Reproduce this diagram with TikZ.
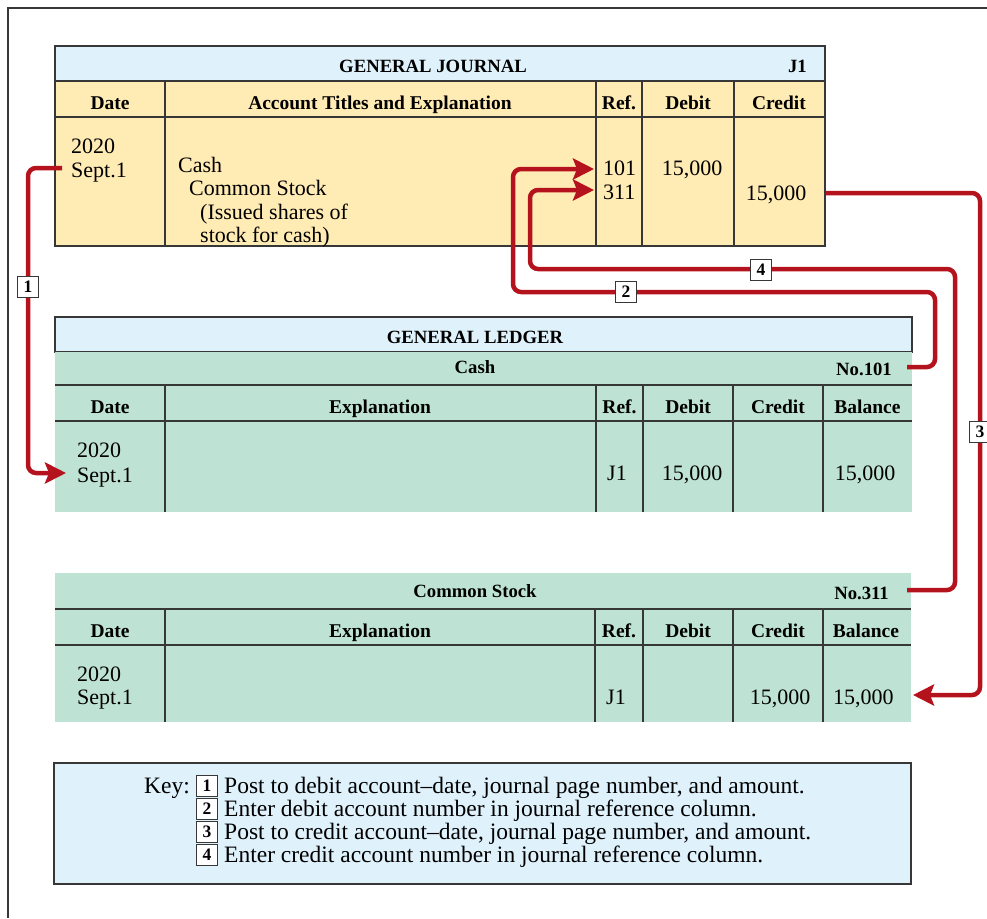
\documentclass[tikz,border=0pt]{standalone}
\usepackage{fontspec}
\setmainfont{Liberation Serif}
\usetikzlibrary{arrows.meta}
\definecolor{jblue}{RGB}{223,241,251}
\definecolor{jyellow}{RGB}{255,235,180}
\definecolor{lgreen}{RGB}{190,227,212}
\definecolor{postred}{RGB}{180,18,28}
\definecolor{rulegray}{RGB}{55,55,55}
\newcommand\bodyfont{\fontsize{22}{23}\selectfont}
\newcommand\keyfont{\fontsize{23.5}{23}\selectfont}
\newcommand\headfont{\fontsize{19.5}{21}\selectfont\bfseries}
\newcommand\titlefont{\fontsize{18.7}{20}\selectfont\bfseries}
\tikzset{
 rule/.style={draw=rulegray, line width=1.2pt},
 txt/.style={inner sep=0pt, font=\bodyfont},
 keytxt/.style={inner sep=0pt, font=\keyfont},
 hd/.style={inner sep=0pt, font=\headfont, anchor=base},
 ttl/.style={inner sep=0pt, font=\titlefont, anchor=base},
 post/.style={draw=postred, line width=4.5pt, rounded corners=8pt},
 posttip/.style={post, -{Stealth[length=21pt,width=21pt,inset=4pt]}},
 numbox/.style={draw=rulegray, fill=white, line width=1pt, inner sep=0pt,
   minimum width=21pt, minimum height=21pt, font=\fontsize{17.5}{17}\selectfont\bfseries},
}
\begin{document}
\begin{tikzpicture}[x=1pt,y=-1pt]
\useasboundingbox (0,0) rectangle (987,918);
% outer frame
\draw[draw=rulegray,line width=1.5pt] (8,918) -- (8,8) -- (987,8);

% ---------------- General Journal ----------------
\fill[jblue] (55,46) rectangle (825,81);
\fill[jyellow] (55,81) rectangle (825,246);
\draw[rule] (55,46) rectangle (825,246);
\draw[rule] (55,81) -- (825,81) (55,117) -- (825,117);
\draw[rule] (165,81) -- (165,246) (596,81) -- (596,246)
            (642,81) -- (642,246) (734,81) -- (734,246);
\node[ttl] (jtitle) at (433,72) {GENERAL JOURNAL};
\node[ttl,anchor=base east] (jpage) at (807,72) {J1};
\node[hd] (jhdate) at (110,109) {Date};
\node[hd] (jhacct) at (380,109) {Account Titles and Explanation};
\node[hd] (jhref) at (619,109) {Ref.};
\node[hd] (jhdeb) at (688,109) {Debit};
\node[hd] (jhcred) at (779,109) {Credit};
\node[txt,anchor=base west] (jyear) at (71,153) {2020};
\node[txt,anchor=base west] (jsept) at (71,177) {Sept.1};
\node[txt,anchor=base west] (jcash) at (178,172) {Cash};
\node[txt,anchor=base west] (jcs) at (189,195) {Common Stock};
\node[txt,anchor=base west] (jexp1) at (200,219) {(Issued shares of};
\node[txt,anchor=base west] (jexp2) at (200,242) {stock for cash)};
\node[txt,anchor=base west] (jref1) at (603,175) {101};
\node[txt,anchor=base west] (jref2) at (603,199) {311};
\node[txt,anchor=base] (jdeb) at (692,175) {15,000};
\node[txt,anchor=base] (jcred) at (776,200) {15,000};

% ---------------- General Ledger: Cash ----------------
\fill[jblue] (55,317) rectangle (912,352);
\draw[rule] (55,317) rectangle (912,352);
\fill[lgreen] (55,352) rectangle (912,512);
\draw[rule] (55,385) -- (912,385) (55,421) -- (912,421);
\draw[rule] (165,385) -- (165,512) (596,385) -- (596,512)
            (643,385) -- (643,512) (733,385) -- (733,512) (823,385) -- (823,512);
\node[ttl] (ltitle) at (475,343) {GENERAL LEDGER};
\node[ttl] (cashname) at (475,373) {Cash};
\node[ttl,anchor=base east] (cashno) at (892,375) {No.101};
\node[hd] (chdate) at (110,413) {Date};
\node[hd] (chexp) at (380,413) {Explanation};
\node[hd] (chref) at (619.5,413) {Ref.};
\node[hd] (chdeb) at (688,413) {Debit};
\node[hd] (chcred) at (778,413) {Credit};
\node[hd] (chbal) at (867.5,413) {Balance};
\node[txt,anchor=base west] (cyear) at (77,457) {2020};
\node[txt,anchor=base west] (csept) at (77,482) {Sept.1};
\node[txt,anchor=base] (cref) at (617,480) {J1};
\node[txt,anchor=base] (cdeb) at (692,480) {15,000};
\node[txt,anchor=base] (cbal) at (865,480) {15,000};

% ---------------- Common Stock ----------------
\fill[lgreen] (55,573) rectangle (911,722);
\draw[rule] (55,609) -- (911,609) (55,645) -- (911,645);
\draw[rule] (165,609) -- (165,722) (595,609) -- (595,722)
            (643,609) -- (643,722) (733,609) -- (733,722) (823,609) -- (823,722);
\node[ttl] (csname) at (475,597) {Common Stock};
\node[ttl,anchor=base east] (csno) at (889,599) {No.311};
\node[hd] (shdate) at (110,637) {Date};
\node[hd] (shexp) at (380,637) {Explanation};
\node[hd] (shref) at (619,637) {Ref.};
\node[hd] (shdeb) at (688,637) {Debit};
\node[hd] (shcred) at (778,637) {Credit};
\node[hd] (shbal) at (866,637) {Balance};
\node[txt,anchor=base west] (syear) at (77,681) {2020};
\node[txt,anchor=base west] (ssept) at (77,704) {Sept.1};
\node[txt,anchor=base] (sref) at (616,704) {J1};
\node[txt,anchor=base] (scred) at (780,704) {15,000};
\node[txt,anchor=base west] (sbal) at (833,704) {15,000};

% ---------------- Key ----------------
\fill[jblue] (54,763) rectangle (911,884);
\draw[rule] (54,763) rectangle (911,884);
\node[keytxt,anchor=base east] (keylbl) at (190,793) {Key:};
\node[numbox] (k1) at (207,785.5) {1};
\node[numbox] (k2) at (207,808.5) {2};
\node[numbox] (k3) at (207,831.5) {3};
\node[numbox] (k4) at (207,854.5) {4};
\node[keytxt,anchor=base west] (kt1) at (224,793) {Post to debit account--date, journal page number, and amount.};
\node[keytxt,anchor=base west] (kt2) at (224,816) {Enter debit account number in journal reference column.};
\node[keytxt,anchor=base west] (kt3) at (224,839) {Post to credit account--date, journal page number, and amount.};
\node[keytxt,anchor=base west] (kt4) at (224,862) {Enter credit account number in journal reference column.};

% ---------------- posting connectors ----------------
\coordinate (s1) at (62,168);
\coordinate (e1) at (66,473);
\coordinate (s2) at (907,367);
\coordinate (e2) at (594,169);
\coordinate (s3) at (826,193);
\coordinate (e3) at (913,695);
\coordinate (s4) at (907,590);
\coordinate (e4) at (594,190);
\draw[posttip] (s1) -- (28,168) -- (28,473) -- (e1);
\draw[posttip] (s2) -- (935,367) -- (935,292) -- (513,292) -- (513,169) -- (e2);
\draw[posttip] (s3) -- (980,193) -- (980,695) -- (e3);
\draw[posttip] (s4) -- (955,590) -- (955,269) -- (530,269) -- (530,190) -- (e4);
\node[numbox] (b1) at (28,286.5) {1};
\node[numbox] (b2) at (626,292) {2};
\node[numbox] (b3) at (980,432) {3};
\node[numbox] (b4) at (761,269.5) {4};
\end{tikzpicture}
\end{document}
